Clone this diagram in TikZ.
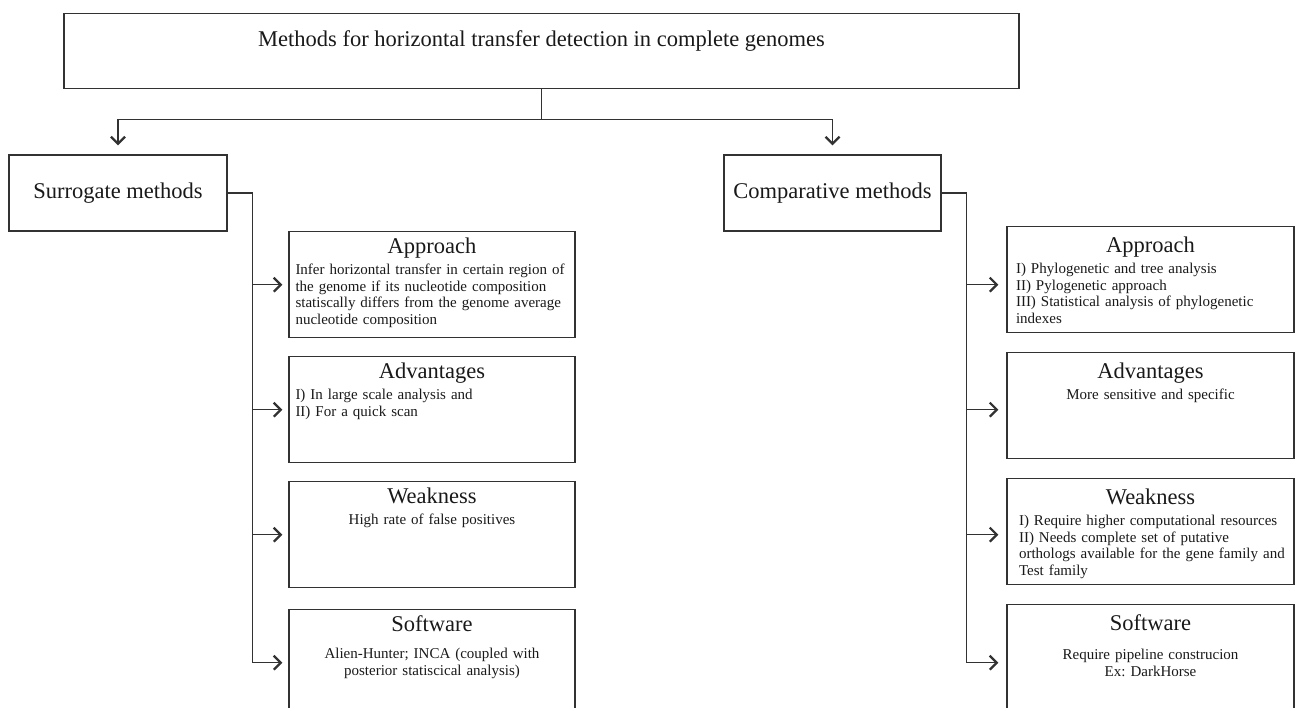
\documentclass[tikz,border=0pt]{standalone}
\usepackage{fontspec}
\setmainfont{Liberation Serif}
\usetikzlibrary{arrows.meta}
\frenchspacing
\newcommand{\boxhead}[1]{{\centering\fontsize{22.5}{24}\selectfont #1\par}\vspace{4pt}}

\begin{document}
\begin{tikzpicture}[x=1pt, y=-1pt,
		link/.style={draw=linegray, line width=1.4pt},
		arr/.style={link, -{Straight Barb[length=7pt, width=14pt, line width=2.2pt]}},
		headbox/.style={draw=linegray, line width=1.4pt, text=textgray, font=\fontsize{22.5}{26}\selectfont},
		infobox/.style={draw=linegray, line width=1.4pt, text=textgray, anchor=north, inner xsep=6.5pt, inner ysep=6pt, text width=273pt, text height=16pt, text depth=78pt, font=\fontsize{15}{16.7}\selectfont},
		rightbox/.style={infobox, inner xsep=9pt, text width=269pt, text height=20pt, text depth=74pt}]
			\definecolor{linegray}{RGB}{50,50,50}
			\definecolor{textgray}{RGB}{25,25,25}
			\useasboundingbox (0,0) rectangle (1295,708);
			\clip (0,0) rectangle (1295,708);
			\node[headbox, anchor=north, minimum width=955pt, inner ysep=0pt, text height=32.6pt, text depth=42.4pt] (title) at (541.5,13) {Methods for horizontal transfer detection in complete genomes};
			\node[headbox, minimum width=218pt, minimum height=76pt] (surr) at (118,193) {Surrogate methods};
			\node[headbox, minimum width=217pt, minimum height=76pt] (comp) at (832.5,193) {Comparative methods};
			\node[infobox] (lapp) at (432,231) {\boxhead{Approach}Infer horizontal transfer in certain region of\linebreak the genome if its nucleotide composition\linebreak statiscally differs from the genome average\linebreak nucleotide composition\par};
			\node[infobox] (ladv) at (432,356) {\boxhead{Advantages}\raggedright I) In large scale analysis and\\II) For a quick scan\par};
			\node[infobox] (lweak) at (432,481) {\boxhead{Weakness}\centering High rate of false positives\par};
			\node[infobox] (lsoft) at (432,609) {\boxhead{Software}\vspace{6pt}\centering Alien-Hunter; INCA (coupled with\\posterior statiscical analysis)\par};
			\node[rightbox] (rapp) at (1150.5,226) {\boxhead{Approach}\raggedright I) Phylogenetic and tree analysis\\II) Pylogenetic approach\\III) Statistical analysis of phylogenetic\\indexes\par};
			\node[rightbox] (radv) at (1150.5,352) {\boxhead{Advantages}\centering More sensitive and specific\par};
			\node[rightbox] (rweak) at (1150.5,478) {\boxhead{Weakness}\raggedright\leftskip=3pt I) Require higher computational resources\\II) Needs complete set of putative\\orthologs available for the gene family and\\Test family\par};
			\node[rightbox] (rsoft) at (1150.5,604) {\boxhead{Software}\vspace{8pt}\centering Require pipeline construcion\\Ex: DarkHorse\par};
			\coordinate (split) at ([yshift=-30pt]title.south);
			\draw[link] (title.south) -- (split);
			\draw[arr, shorten >=9pt] (split) -| (surr.north);
			\draw[arr, shorten >=9pt] (split) -| (comp.north);
			\coordinate (lbus) at ([xshift=25pt]surr.east);
			\coordinate (rbus) at ([xshift=25pt]comp.east);
			\draw[link] (surr.east) -- (lbus) -- (lbus |- lsoft.west);
			\draw[link] (comp.east) -- (rbus) -- (rbus |- lsoft.west);
			\foreach \b in {lapp, ladv, lweak, lsoft}
				\draw[arr, shorten >=6pt] (lbus |- \b.west) -- (\b.west);
			\foreach \a/\b in {lapp/rapp, ladv/radv, lweak/rweak, lsoft/rsoft}
				\draw[arr, shorten >=8pt] (rbus |- \a.west) -- (\b.west |- \a.west);
		\end{tikzpicture}
\end{document}
